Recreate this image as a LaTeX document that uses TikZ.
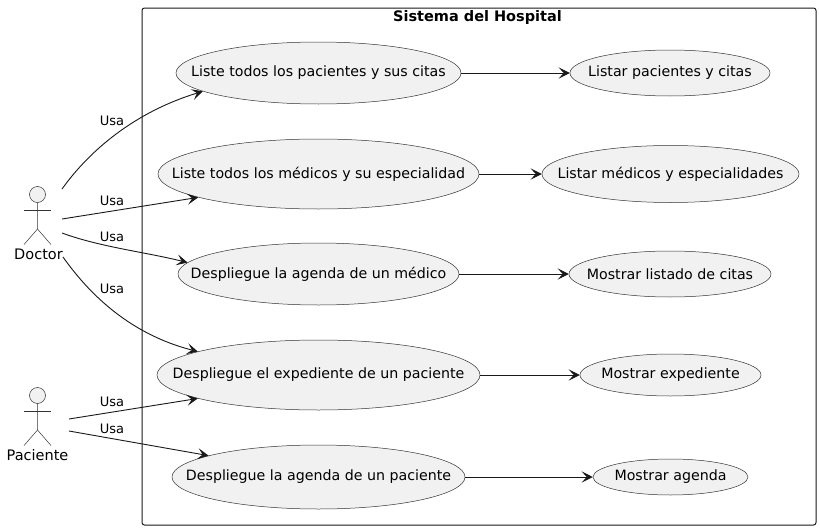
\documentclass[tikz,border=0pt]{standalone}
\usepackage{fontspec}
\setmainfont{DejaVu Sans}
\usetikzlibrary{arrows.meta,shapes.geometric}
\newcommand{\caso}[1]{\makebox[0pt]{#1}}

\begin{document}
\begin{tikzpicture}[x=1pt, y=-1pt]
\tikzset{casouso/.style={draw=black!80, line width=0.5pt, fill=black!5.5, ellipse, inner sep=0pt, font=\fontsize{14.2}{16}\selectfont},
  usa/.style={draw=black!90, line width=0.9pt, -{Stealth[length=11pt, width=11pt, inset=5pt]}},
  etiq/.style={inner sep=0pt, font=\fontsize{13}{15}\selectfont},
  cabeza/.style={draw=black!80, line width=0.5pt, fill=black!5.5, circle, minimum size=16pt, inner sep=0pt},
  palo/.style={draw=black!80, line width=0.5pt},
  actor/.style={inner sep=0pt, font=\fontsize{14.5}{16}\selectfont}}
\useasboundingbox (0, 0) rectangle (820, 530);
\fill[white] (0, 0) rectangle (820, 530);
\draw[black!90, line width=1pt, rounded corners=2.5pt] (142, 8) rectangle (816, 525);
\node[inner sep=0pt, font=\fontsize{14.5}{16}\selectfont\bfseries] (titulo) at (477.5, 17.5) {Sistema del Hospital};
% casos de uso
\node[casouso, minimum width=285pt, minimum height=62pt] (E1) at (318.5, 73) {\caso{Liste todos los pacientes y sus citas}};
\node[casouso, minimum width=321pt, minimum height=70pt] (E2) at (318.5, 174) {\caso{Liste todos los médicos y su especialidad}};
\node[casouso, minimum width=281pt, minimum height=62pt] (E3) at (318.5, 274) {\caso{Despliegue la agenda de un médico}};
\node[casouso, minimum width=323pt, minimum height=70pt] (E4) at (318.5, 375) {\caso{Despliegue el expediente de un paciente}};
\node[casouso, minimum width=293pt, minimum height=64pt] (E5) at (318.5, 477) {\caso{Despliegue la agenda de un paciente}};
\node[casouso, minimum width=200pt, minimum height=46pt] (R1) at (670, 73) {\caso{Listar pacientes y citas}};
\node[casouso, minimum width=257pt, minimum height=57pt] (R2) at (670.5, 174) {\caso{Listar médicos y especialidades}};
\node[casouso, minimum width=202pt, minimum height=46pt] (R3) at (670, 274) {\caso{Mostrar listado de citas}};
\node[casouso, minimum width=181pt, minimum height=42pt] (R4) at (670.5, 375) {\caso{Mostrar expediente}};
\node[casouso, minimum width=155pt, minimum height=36pt] (R5) at (670.5, 477) {\caso{Mostrar agenda}};
\foreach \n in {1,...,5} {
  \draw[usa] (E\n.east) -- (R\n.west);
}
% actores
\node[cabeza] (cabezaD) at (37.5, 194.5) {};
\draw[palo] (cabezaD.south) -- (37.5, 229) -- (24, 244.5);
\draw[palo] (37.5, 229) -- (51, 244.5);
\draw[palo] (24, 210.5) -- (51, 210.5);
\node[actor] (doctor) at (38.5, 254) {Doctor};
\node[cabeza] (cabezaP) at (37.5, 395.5) {};
\draw[palo] (cabezaP.south) -- (37.5, 430) -- (24, 445.5);
\draw[palo] (37.5, 430) -- (51, 445.5);
\draw[palo] (24, 411.5) -- (51, 411.5);
\node[actor] (paciente) at (37.5, 455) {Paciente};
% salidas
\coordinate (D1) at (62, 189);
\coordinate (D2) at (62, 219);
\coordinate (D3) at (62, 233);
\coordinate (D4) at (63, 257);
\coordinate (P1) at (69, 419);
\coordinate (P2) at (69, 431);
\draw[usa] (D1) .. controls (90, 150) and (135, 112) .. (E1.189.6);
\draw[usa] (D2) -- (E2.191);
\draw[usa] (D3) .. controls (100, 247) and (145, 252) .. (E3.175);
\draw[usa] (D4) .. controls (85, 288) and (125, 333) .. (E4.169.5);
\draw[usa] (P1) -- (E4.191);
\draw[usa] (P2) -- (E5.169.7);
\node[etiq] (u1) at (112, 121) {Usa};
\node[etiq] (u2) at (112, 201) {Usa};
\node[etiq] (u3) at (112, 237) {Usa};
\node[etiq] (u4) at (112, 289) {Usa};
\node[etiq] (u5) at (112, 402) {Usa};
\node[etiq] (u6) at (112, 429) {Usa};
\end{tikzpicture}
\end{document}
